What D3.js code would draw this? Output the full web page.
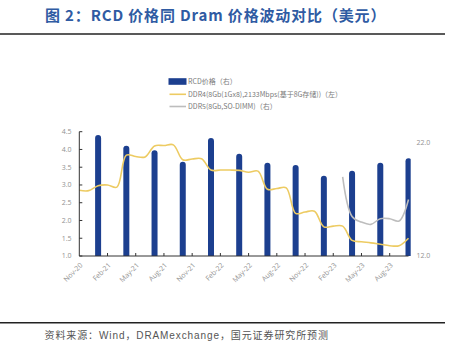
<!DOCTYPE html>
<html><head><meta charset="utf-8">
<script src="https://cdn.jsdelivr.net/npm/d3@7"></script>
<style>
html,body{margin:0;padding:0;background:#fff;}
svg{display:block;}
</style></head>
<body>
<svg id="chart" width="462" height="357"></svg>
<script>
const months = ["Nov-20","Dec-20","Jan-21","Feb-21","Mar-21","Apr-21","May-21","Jun-21","Jul-21","Aug-21","Sep-21","Oct-21",
  "Nov-21","Dec-21","Jan-22","Feb-22","Mar-22","Apr-22","May-22","Jun-22","Jul-22","Aug-22","Sep-22","Oct-22",
  "Nov-22","Dec-22","Jan-23","Feb-23","Mar-23","Apr-23","May-23","Jun-23","Jul-23","Aug-23","Sep-23","Oct-23"];
const tickLabels = ["Nov-20","Feb-21","May-21","Aug-21","Nov-21","Feb-22","May-22","Aug-22","Nov-22","Feb-23","May-23","Aug-23"];
const rcdMonths = ["Jan-21","Apr-21","Jul-21","Oct-21","Jan-22","Apr-22","Jul-22","Oct-22","Jan-23","Apr-23","Jul-23","Oct-23"];
const rcdValues = [22.7,21.75,21.35,20.35,22.45,21.05,20.25,20.05,19.1,19.55,20.25,20.65];
const ddr4Values = [2.85,2.84,2.98,3.00,2.94,3.84,3.80,3.79,4.10,4.11,4.13,3.71,
  3.73,3.74,3.42,3.42,3.42,3.41,3.36,3.39,2.88,2.90,2.92,2.20,
  2.24,2.26,1.82,1.84,1.84,1.44,1.40,1.37,1.33,1.29,1.29,1.50];
const ddr5Months = ["Mar-23","Apr-23","May-23","Jun-23","Jul-23","Aug-23","Sep-23","Oct-23"];
const ddr5Values = [19.0,15.5,15.0,14.8,15.3,15.3,15.1,17.0];
const leftTicks = [1.0,1.5,2.0,2.5,3.0,3.5,4.0,4.5];
const rightTicks = [12.0,22.0];
const legendLabels = ["RCD价格（右）","DDR4(8Gb(1Gx8),2133Mbps(基于8G存储))（左）","DDR5(8Gb,SO-DIMM)（右）"];

const svg = d3.select("#chart");
const X0 = 79.3, X1 = 408.5, Y0 = 256, Y1 = 131.7;
const x = d3.scalePoint().domain(months).range([X0, X1]);
const yL = d3.scaleLinear().domain([1, 4.5]).range([Y0, Y1]);
const yR = d3.scaleLinear().domain([12, 23]).range([Y0, Y1]);

const blue = "#1C3F8F", yellow = "#EDCB62", gray = "#BDBDBD", axisTxt = "#929292";

// title
svg.append("text").attr("x", 45).attr("y", 21)
  .attr("font-family", "'Noto Sans CJK SC', sans-serif").attr("font-weight", "bold")
  .attr("font-size", 15).attr("letter-spacing", 0.85).attr("fill", "#2F5BA3")
  .text("图 2：RCD 价格同 Dram 价格波动对比（美元）");
svg.append("line").attr("x1", 0).attr("x2", 445).attr("y1", 34).attr("y2", 34)
  .attr("stroke", "#222").attr("stroke-width", 1.5);
svg.append("line").attr("x1", 0).attr("x2", 445).attr("y1", 322.7).attr("y2", 322.7)
  .attr("stroke", "#222").attr("stroke-width", 1.5);
svg.append("text").attr("x", 44.5).attr("y", 338.5)
  .attr("font-family", "'Liberation Sans', 'Noto Sans CJK SC', sans-serif")
  .attr("font-size", 10).attr("letter-spacing", 0.9).attr("fill", "#555")
  .text("资料来源：Wind，DRAMexchange，国元证券研究所预测");

// clip
svg.append("defs").append("clipPath").attr("id", "clip")
  .append("rect").attr("x", X0).attr("y", 100).attr("width", 410.7 - X0).attr("height", Y0 - 100);

// bars
const bw = 6, r = 3;
svg.append("g").attr("clip-path", "url(#clip)").selectAll("path").data(rcdMonths.map((m,i)=>({m, v: rcdValues[i]})))
  .join("path")
  .attr("fill", blue)
  .attr("d", d => {
    const cx = x(d.m), top = yR(d.v), l = cx - bw/2, rr = cx + bw/2;
    return `M${l},${Y0} L${l},${top + r} A${r},${r} 0 0 1 ${rr},${top + r} L${rr},${Y0} Z`;
  });

// DDR4 line
const lineL = d3.line().x((d,i)=>x(months[i])).y(d=>yL(d)).curve(d3.curveCatmullRom.alpha(0.5));
svg.append("path").attr("d", lineL(ddr4Values)).attr("fill", "none")
  .attr("stroke", yellow).attr("stroke-width", 1.6);

// DDR5 line
const lineR = d3.line().x((d,i)=>x(ddr5Months[i])).y(d=>yR(d)).curve(d3.curveCatmullRom.alpha(0.5));
svg.append("path").attr("d", lineR(ddr5Values)).attr("fill", "none")
  .attr("stroke", gray).attr("stroke-width", 1.6);

// axes
const axG = svg.append("g");
axG.append("line").attr("x1", X0).attr("x2", X0).attr("y1", Y1).attr("y2", Y0).attr("stroke", "#333").attr("stroke-width", 1);
axG.append("line").attr("x1", X0).attr("x2", X1).attr("y1", Y0).attr("y2", Y0).attr("stroke", "#333").attr("stroke-width", 1);
leftTicks.forEach(t => {
  axG.append("line").attr("x1", X0).attr("x2", X0 + 3).attr("y1", yL(t)).attr("y2", yL(t)).attr("stroke", "#333");
  axG.append("text").attr("x", 71.5).attr("y", yL(t)).attr("dy", "0.35em").attr("text-anchor", "end")
    .attr("font-family", "'Open Sans', sans-serif").attr("font-size", 7).attr("fill", axisTxt)
    .text(t.toFixed(1));
});
rightTicks.forEach(t => {
  axG.append("text").attr("x", 416.5).attr("y", yR(t)).attr("dy", "0.35em").attr("text-anchor", "start")
    .attr("font-family", "'Open Sans', sans-serif").attr("font-size", 7).attr("fill", axisTxt)
    .text(t.toFixed(1));
});
tickLabels.forEach((lab, i) => {
  const tx = x(lab);
  if (i > 0) axG.append("line").attr("x1", tx).attr("x2", tx).attr("y1", Y0).attr("y2", Y0 - 3).attr("stroke", "#333");
  axG.append("text").attr("transform", `translate(${tx + 2},${Y0 + 8}) rotate(-45)`)
    .attr("text-anchor", "end").attr("dy", "0.35em")
    .attr("font-family", "'Open Sans', sans-serif").attr("font-size", 7).attr("fill", axisTxt)
    .text(lab);
});

// legend
const lg = svg.append("g");
const lx = 168.5, ly = [81.5, 94.3, 106.5];
lg.append("rect").attr("x", lx).attr("y", ly[0] - 3.3).attr("width", 18).attr("height", 6.6).attr("fill", blue);
lg.append("line").attr("x1", lx + 1).attr("x2", lx + 17.5).attr("y1", ly[1]).attr("y2", ly[1]).attr("stroke", yellow).attr("stroke-width", 1.6);
lg.append("line").attr("x1", lx + 1).attr("x2", lx + 17.5).attr("y1", ly[2]).attr("y2", ly[2]).attr("stroke", gray).attr("stroke-width", 1.6);
legendLabels.forEach((t, i) => {
  lg.append("text").attr("x", 188).attr("y", ly[i]).attr("dy", "0.35em")
    .attr("font-family", "'Noto Sans CJK SC', sans-serif").attr("font-size", 7).attr("fill", "#7a7a7a")
    .text(t);
});
</script>
</body></html>
